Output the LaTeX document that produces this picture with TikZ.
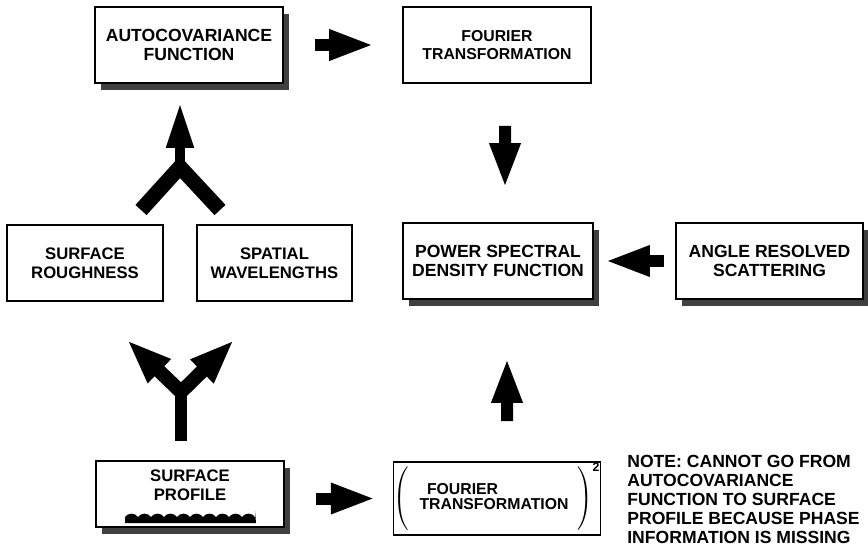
\documentclass[tikz,border=0pt]{standalone}
\usepackage{fontspec}
\setmainfont{Liberation Sans}
\usetikzlibrary{arrows.meta,shadows}
\begin{document}
\begin{tikzpicture}[x=0.02cm,y=-0.02cm,
  box/.style={draw, line width=0.9pt, fill=white, align=center, inner sep=0pt,
    font=\fontsize{10}{10.8}\selectfont\bfseries},
  midfont/.style={font=\fontsize{9.5}{10.8}\selectfont\bfseries},
  smallfont/.style={font=\fontsize{9}{10.4}\selectfont\bfseries},
  shad/.style={drop shadow={shadow xshift=1.2mm, shadow yshift=-1.4mm, fill=black!75, opacity=1}},
  blk/.style={line width=2.4mm, -{Triangle[length=9mm,width=5.6mm]}},
]
\useasboundingbox (0,0) rectangle (868,552);

% boxes
\node[box, shad, minimum width=3.76cm, minimum height=1.52cm] (auto) at (189,45) {AUTOCOVARIANCE\\FUNCTION};
\node[box, smallfont, minimum width=3.76cm, minimum height=1.52cm] (four) at (497,45) {FOURIER\\TRANSFORMATION};
\node[box, midfont, minimum width=3.12cm, minimum height=1.52cm] (rough) at (85,263) {SURFACE\\ROUGHNESS};
\node[box, midfont, minimum width=3.10cm, minimum height=1.52cm] (spat) at (274.5,263) {SPATIAL\\WAVELENGTHS};
\node[box, shad, minimum width=3.80cm, minimum height=1.52cm] (psd) at (498,261) {POWER SPECTRAL\\DENSITY FUNCTION};
\node[box, shad, minimum width=3.74cm, minimum height=1.52cm] (ang) at (769.5,261) {ANGLE RESOLVED\\SCATTERING};
\node[box, shad, minimum width=3.76cm, minimum height=1.32cm] (prof) at (190,494) {};
\node[midfont, align=center, inner sep=0pt] (proftext) at (190,485) {SURFACE\\PROFILE};
\fill (125,523) -- (125,517)
  \foreach \i in {0,...,9} { .. controls ({128+13*\i},512.5) and ({135+13*\i},512.5) .. ({138+13*\i},517) }
  -- (255,511) -- (256,523) -- cycle;

\node[box, smallfont, minimum width=4.12cm, minimum height=1.46cm] (fsq) at (497,498.5)
  {$\left(\hspace{6pt}\rule[-15.5pt]{0pt}{36pt}\vcenter{\hbox{\def\arraystretch{0.82}\begin{tabular}{@{}l@{}}\hspace*{1.5mm}FOURIER\\TRANSFORMATION\end{tabular}}}\hspace{5pt}\right)^{\smash{\mbox{\fontsize{7}{7}\selectfont\bfseries 2}}}$};

\node[anchor=north west, align=left, inner sep=0pt, font=\fontsize{10}{10.8}\selectfont\bfseries] (note) at (627,455)
  {NOTE: CANNOT GO FROM\\AUTOCOVARIANCE\\FUNCTION TO SURFACE\\PROFILE BECAUSE PHASE\\INFORMATION IS MISSING};

% block arrows
\draw[blk, shorten <=6.2mm, shorten >=5.6mm] (auto.east) -- (four.west);
\draw[blk, shorten <=8.4mm, shorten >=6.8mm] ([xshift=1.6mm]four.south) -- ([xshift=1.4mm]psd.north);
\draw[blk, shorten <=8mm, shorten >=11.6mm] ([xshift=2mm]fsq.north) -- ([xshift=1.8mm]psd.south);
\draw[blk, shorten <=6.2mm, shorten >=3.4mm] (prof.east |- fsq.west) -- (fsq.west);
\draw[blk, shorten <=2.2mm, shorten >=2.2mm] (ang.west) -- (psd.east);

% merging arrow up
\coordinate (ja) at (180,167);
\coordinate (la) at (141,210);
\coordinate (ra) at (220,210);
\draw[line width=3mm, line join=miter] (la) -- (ja) -- (ra);
\draw[line width=2mm, -{Triangle[length=9.2mm,width=5mm]}, shorten >=3.6mm] (ja) -- (ja |- auto.south);

% splitting arrow down
\coordinate (jb) at (181,392);
\coordinate (lb) at (127,340);
\coordinate (rb) at (234,340);
\draw[line width=2.8mm, line join=miter, {Triangle[length=9mm,width=6mm]}-{Triangle[length=9mm,width=6mm]}] (lb) -- (jb) -- (rb);
\draw[line width=2.4mm, shorten >=3.8mm] (jb) -- (jb |- prof.north);
\end{tikzpicture}
\end{document}
